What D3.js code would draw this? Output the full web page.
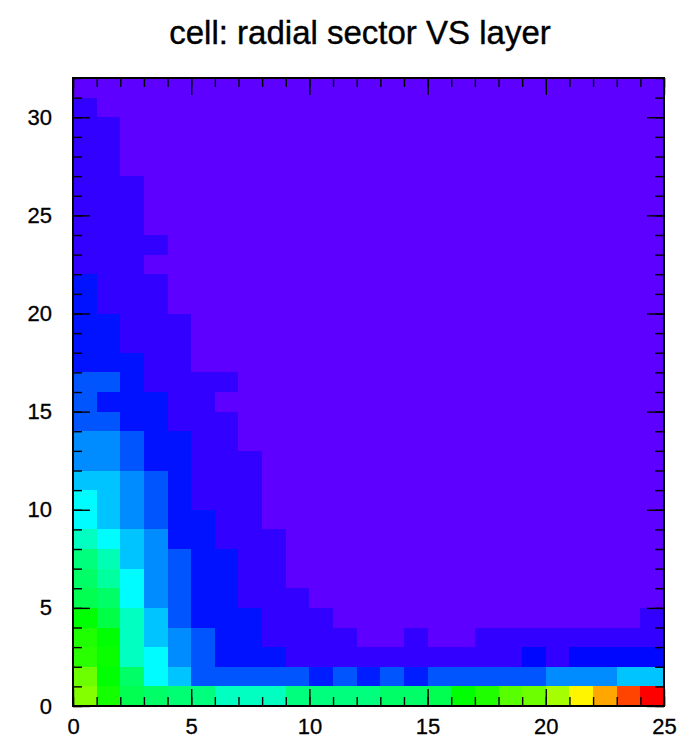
<!DOCTYPE html>
<html>
<head>
<meta charset="utf-8">
<script src="https://cdn.jsdelivr.net/npm/d3@7"></script>
<style>
  html, body { margin: 0; padding: 0; background: #fff; }
  svg { display: block; }
  text { font-family: "Liberation Sans", Arial, Helvetica, sans-serif; fill: #000; }
</style>
</head>
<body>
<svg id="chart" width="692" height="741"></svg>
<script>
// ---- data ----------------------------------------------------------
const chartTitle = "cell: radial sector VS layer";
const xRange = [0, 25];          // layer
const yRange = [0, 32];          // radial sector
const xTickLabels = [0, 5, 10, 15, 20, 25];
const yTickLabels = [0, 5, 10, 15, 20, 25, 30];
const colorDomain = [0, 100];
// relative bin content, one array per layer (x bin), listed from sector 0 upward
const layer0  = [66,64,58,57,54,47,45,43,37,31,31,26,21,21,16,16,16,10,10,10,10,10,4,4,4,4,4,4,4,4,4,0];
const layer1  = [56,54,55,54,48,45,40,38,31,26,26,26,21,21,16,10,16,10,10,10,4,4,4,4,4,4,4,4,4,4];
const layer2  = [47,45,37,37,37,31,31,26,26,21,21,21,16,16,10,10,10,10,4,4,4,4,4,4,4,4,4];
const layer3  = [45,31,31,26,26,21,21,21,21,16,16,16,10,10,10,10,4,4,4,4,4,4,0,4];
const layer4  = [44,26,21,21,16,16,16,16,10,10,10,10,10,10,4,4,4,4,4,4];
const layer5  = [43,16,16,16,10,10,10,10,10,10,4,4,4,4,4,4,4];
const layer6  = [37,16,10,10,10,10,10,10,4,4,4,4,4,4,4,0,4];
const layer7  = [37,16,10,10,10,4,4,4,4,4,4,4,4];
const layer8  = [37,16,10,4,4,4,4,4,4];
const layer9  = [43,16,4,4,4,4];
const layer10 = [43,11,4,4,4];
const layer11 = [43,16,4,4];
const layer12 = [43,11,4];
const layer13 = [45,16,4];
const layer14 = [45,11,4,4];
const layer15 = [47,16,4];
const layer16 = [54,16,4];
const layer17 = [57,16,4,4];
const layer18 = [62,16,4,4];
const layer19 = [64,16,9,4];
const layer20 = [69,21,4,4];
const layer21 = [78,21,9,4];
const layer22 = [85,21,9,4];
const layer23 = [94,26,9,4];
const layer24 = [100,26,9,4,4];
const layers = [layer0,layer1,layer2,layer3,layer4,layer5,layer6,layer7,layer8,layer9,
  layer10,layer11,layer12,layer13,layer14,layer15,layer16,layer17,layer18,layer19,
  layer20,layer21,layer22,layer23,layer24];

// ---- drawing -------------------------------------------------------
const svg = d3.select("#chart");
const W = 692, H = 741;
const m = { left: 73, right: 664, top: 78, bottom: 706 };

const x = d3.scaleLinear().domain(xRange).range([m.left, m.right]);
const y = d3.scaleLinear().domain(yRange).range([m.bottom, m.top]);
const hue = d3.scaleLinear().domain(colorDomain).range([262, 0]);
const color = v => d3.hsl(hue(v), 1, 0.5).formatHex();

svg.append("rect").attr("width", W).attr("height", H).attr("fill", "#fff");

// cells
const nY = yRange[1] - yRange[0];
const cells = [];
layers.forEach((arr, i) => {
  for (let j = 0; j < nY; j++) cells.push({ i, j, v: arr[j] || 0 });
});
svg.append("g").attr("shape-rendering", "crispEdges")
  .selectAll("rect").data(cells).join("rect")
  .attr("x", d => x(d.i))
  .attr("y", d => y(d.j + 1))
  .attr("width", d => x(d.i + 1) - x(d.i))
  .attr("height", d => y(d.j) - y(d.j + 1))
  .attr("fill", d => color(d.v));

// axes
const major = 17, minor = 9;
const xMinor = d3.range(xRange[0], xRange[1] + 1);
const yMinor = d3.range(yRange[0], yRange[1] + 1);

function styleAxis(g) {
  g.select(".domain").remove();
  g.selectAll(".tick line").attr("stroke", "#000").attr("stroke-width", 1.4);
}
function styleLabels(g) {
  g.selectAll("text").attr("font-size", 22)
    .attr("stroke", "#000").attr("stroke-width", 0.3);
}

// bottom
svg.append("g").attr("transform", `translate(0,${m.bottom})`)
  .call(d3.axisBottom(x).tickValues(xMinor).tickSize(-minor).tickFormat(""))
  .call(styleAxis);
svg.append("g").attr("transform", `translate(0,${m.bottom})`)
  .call(d3.axisBottom(x).tickValues(xTickLabels).tickSize(-major).tickPadding(12).tickFormat(d3.format("d")))
  .call(styleAxis)
  .call(styleLabels);
// top
svg.append("g").attr("transform", `translate(0,${m.top})`)
  .call(d3.axisTop(x).tickValues(xMinor).tickSize(-minor).tickFormat(""))
  .call(styleAxis);
svg.append("g").attr("transform", `translate(0,${m.top})`)
  .call(d3.axisTop(x).tickValues(xTickLabels).tickSize(-major).tickFormat(""))
  .call(styleAxis);
// left
svg.append("g").attr("transform", `translate(${m.left},0)`)
  .call(d3.axisLeft(y).tickValues(yMinor).tickSize(-minor).tickFormat(""))
  .call(styleAxis);
svg.append("g").attr("transform", `translate(${m.left},0)`)
  .call(d3.axisLeft(y).tickValues(yTickLabels).tickSize(-major).tickPadding(21).tickFormat(d3.format("d")))
  .call(styleAxis)
  .call(styleLabels);
// right
svg.append("g").attr("transform", `translate(${m.right},0)`)
  .call(d3.axisRight(y).tickValues(yMinor).tickSize(-minor).tickFormat(""))
  .call(styleAxis);
svg.append("g").attr("transform", `translate(${m.right},0)`)
  .call(d3.axisRight(y).tickValues(yTickLabels).tickSize(-major).tickFormat(""))
  .call(styleAxis);

// frame
svg.append("rect")
  .attr("x", m.left).attr("y", m.top)
  .attr("width", m.right - m.left).attr("height", m.bottom - m.top)
  .attr("fill", "none").attr("stroke", "#000").attr("stroke-width", 2);

// title
svg.append("text")
  .attr("x", 360).attr("y", 44)
  .attr("text-anchor", "middle")
  .attr("font-size", 33)
  .attr("stroke", "#000").attr("stroke-width", 0.4)
  .text(chartTitle);
</script>
</body>
</html>
